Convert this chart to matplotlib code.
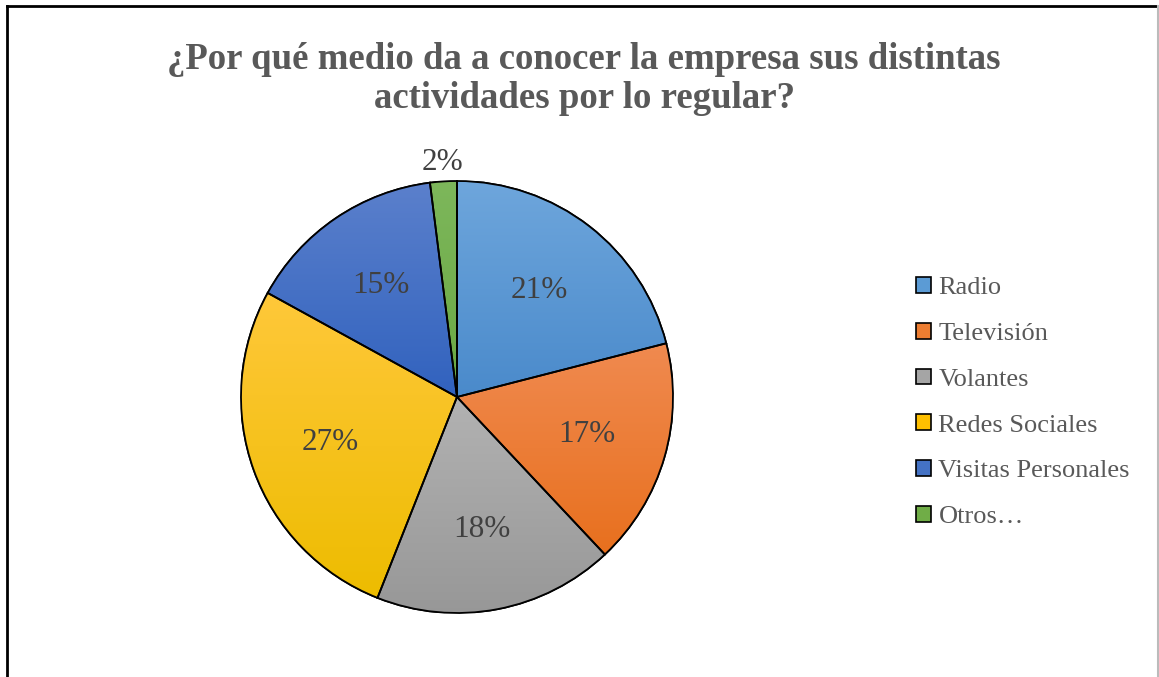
import matplotlib.pyplot as plt
import numpy as np
from matplotlib.colors import LinearSegmentedColormap
from matplotlib.patches import Patch, Wedge
from matplotlib.lines import Line2D

plt.rcParams['font.family'] = ['Liberation Serif', 'DejaVu Serif']

categories = ['Radio', 'Televisión', 'Volantes', 'Redes Sociales', 'Visitas Personales', 'Otros…']
values = [21, 17, 18, 27, 15, 2]
# top / bottom colours of each slice's gradient
top_colors = ['#6EA6DC', '#F08A50', '#B2B2B2', '#FFC83A', '#5B80CC', '#7DB75B']
bottom_colors = ['#4A8ACB', '#E8701E', '#979797', '#EDBC00', '#3162BE', '#6AA843']
base_colors = ['#5B9BD5', '#ED7D31', '#A5A5A5', '#FFC000', '#4472C4', '#70AD47']
title = '¿Por qué medio da a conocer la empresa sus distintas\nactividades por lo regular?'

fig = plt.figure(figsize=(11.59, 6.77), dpi=100)

W, H = 1159, 677
cx, cy, r = 457, 397, 216
ax = fig.add_axes([(cx - r) / W, (H - cy - r) / H, 2 * r / W, 2 * r / H])

wedges, _ = ax.pie(values, colors=base_colors, startangle=90, counterclock=False,
                   radius=1, center=(0, 0),
                   wedgeprops=dict(edgecolor='black', linewidth=1.3))
ax.set_aspect('auto')
ax.axis('off')

# gradient fill per slice, clipped to the wedge
for w, c1, c2 in zip(wedges, top_colors, bottom_colors):
    verts = w.get_path().vertices
    x0, x1 = verts[:, 0].min(), verts[:, 0].max()
    y0, y1 = verts[:, 1].min(), verts[:, 1].max()
    cmap = LinearSegmentedColormap.from_list('g', [c2, c1])
    grad = np.linspace(0, 1, 256).reshape(-1, 1)
    im = ax.imshow(grad, cmap=cmap, extent=[x0, x1, y0, y1], origin='lower',
                   aspect='auto', zorder=w.get_zorder() + 0.1)
    im.set_clip_path(w)
    edge = Wedge(w.center, w.r, w.theta1, w.theta2, facecolor='none',
                 edgecolor='black', linewidth=1.3, zorder=w.get_zorder() + 0.2)
    ax.add_patch(edge)

# percentage labels
for w, v in zip(wedges, values):
    ang = np.deg2rad((w.theta1 + w.theta2) / 2)
    d = 1.09 if v < 5 else 0.625
    ax.text(d * np.cos(ang), d * np.sin(ang), f'{v}%', ha='center', va='center',
            fontsize=22.5, color='#404040', zorder=10)

ax.set_xlim(-1, 1)
ax.set_ylim(-1, 1)

fig.text(0.504, 1 - 79 / H, title, ha='center', va='center', fontsize=26.5,
         fontweight='bold', color='#595959', linespacing=1.13)

handles = [Patch(facecolor=c, edgecolor='black', linewidth=1.2) for c in base_colors]
fig.legend(handles, categories, loc='upper left', bbox_to_anchor=(916 / W, 1 - 277 / H),
           frameon=False, fontsize=19, labelcolor='#595959', handlelength=0.55,
           handleheight=0.55, handletextpad=0.3, labelspacing=0.89, borderpad=0,
           borderaxespad=0)

# chart border
fig.add_artist(Line2D([7 / W, 7 / W], [0, 1 - 6 / H], color='black', lw=2))
fig.add_artist(Line2D([7 / W, 1158 / W], [1 - 6 / H, 1 - 6 / H], color='black', lw=2))
fig.add_artist(Line2D([1157.5 / W, 1157.5 / W], [0, 1 - 6 / H], color='#BBBBBB', lw=1.5))

fig.savefig('out.png', dpi=100)
